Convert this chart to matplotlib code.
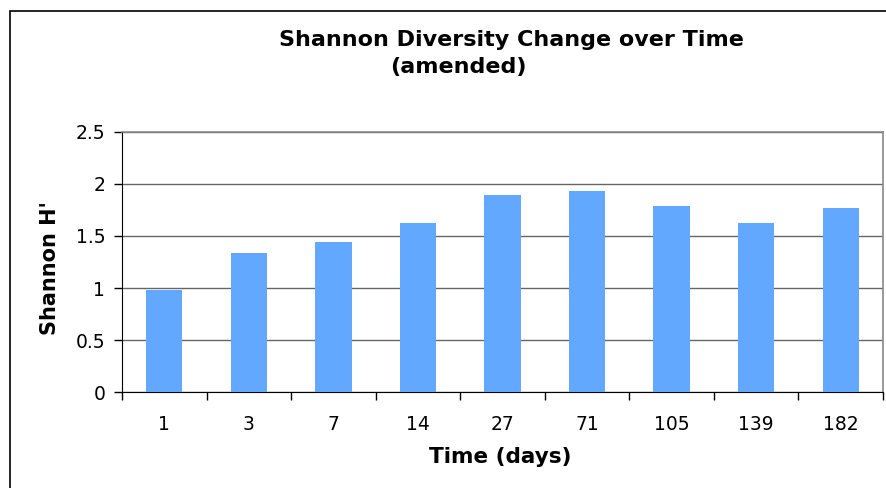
import matplotlib.pyplot as plt
import numpy as np
from matplotlib.patches import Rectangle

# data
days = ["1", "3", "7", "14", "27", "71", "105", "139", "182"]
shannon_h = [0.98, 1.34, 1.44, 1.62, 1.89, 1.93, 1.79, 1.62, 1.77]

plt.rcParams['font.family'] = ['DejaVu Sans']

fig = plt.figure(figsize=(8.86, 4.88), dpi=100)
ax = fig.add_axes([122/886, 95.7/488, 761/886, 260.6/488])

x = np.arange(len(days))
ax.bar(x, shannon_h, width=0.43, color='#63a8ff', zorder=3)
ax.set_xlim(-0.5, len(days) - 0.5)
ax.set_ylim(0, 2.5)
ax.set_yticks([0, 0.5, 1, 1.5, 2, 2.5])
ax.set_yticklabels(["0", "0.5", "1", "1.5", "2", "2.5"], fontsize=13.5)
ax.set_xticks(x)
ax.set_xticklabels(days, fontsize=13.5)
ax.tick_params(axis='x', length=0, pad=16)
ax.tick_params(axis='y', length=6, width=1, pad=6)
# ticks at category boundaries
ax.set_xticks(np.arange(-0.5, len(days)), minor=True)
ax.tick_params(axis='x', which='minor', length=6, width=1, direction='out')

ax.yaxis.grid(True, color='#666666', linewidth=1, zorder=0)
ax.set_axisbelow(True)
for side in ['top', 'right']:
    ax.spines[side].set_color('#888888')
    ax.spines[side].set_linewidth(1.2)
ax.spines['left'].set_color('black')
ax.spines['bottom'].set_color('black')

ax.set_ylabel("Shannon H'", fontsize=15, fontweight='bold')
ax.yaxis.set_label_coords((50 - 122) / 761, (392.3 - 268) / 260.6)
ax.set_xlabel("Time (days)", fontsize=15.5, fontweight='bold')
ax.xaxis.set_label_coords((500 - 122) / 761, -(457 - 392.3) / 260.6)
ax.xaxis.label.set_va('center')
ax.yaxis.label.set_va('center')

fig.text(511/886, 1 - 40/488, "Shannon Diversity Change over Time", ha='center', va='center',
         fontsize=16, fontweight='bold')
fig.text(458/886, 1 - 67/488, "(amended)", ha='center', va='center',
         fontsize=16, fontweight='bold')

# outer chart frame
fig.patches.append(Rectangle((10/886, -0.1), 1.2, 1 - 11/488 + 0.1, transform=fig.transFigure,
                             fill=False, edgecolor='black', linewidth=1.2))

fig.savefig("out.png", dpi=100)
